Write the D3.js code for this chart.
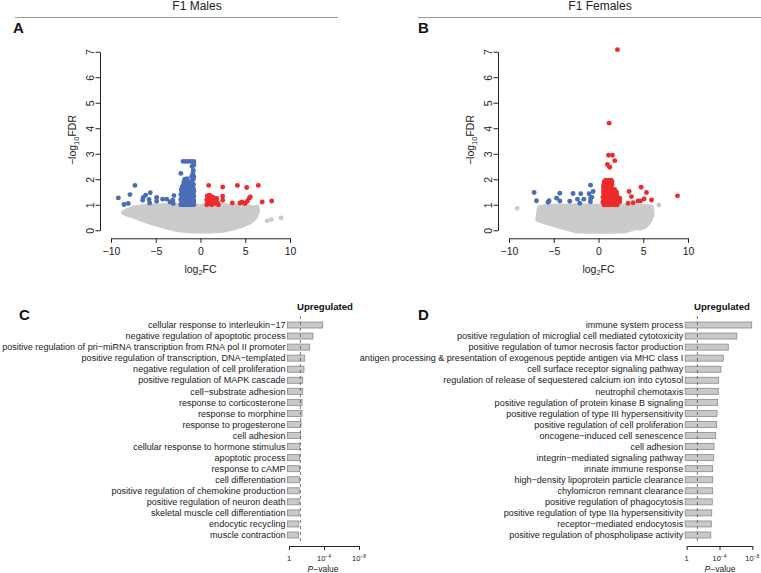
<!DOCTYPE html>
<html><head><meta charset="utf-8">
<script src="https://cdn.jsdelivr.net/npm/d3@7"></script>
<style>
html,body{margin:0;padding:0;background:#fff;}
svg{display:block;font-family:"Liberation Sans",Arial,Helvetica,sans-serif;}
</style></head>
<body><svg id="fig" width="761" height="573"></svg>
<script>
// ---------------- DATA ----------------
const volcanoXTicks = [-10, -5, 0, 5, 10];
const volcanoYTicks = [0, 1, 2, 3, 4, 5, 6, 7];

// F1 Males: [log2FC, -log10FDR]
const maleGrayCloud = [[-8.5,0.70],[-8.0,0.80],[-7.4,0.88],[-6.5,0.93],[-5.5,0.96],[-4,0.97],[-2.5,0.97],[-0.9,0.96],[-0.35,0.96],[0,0.2],[0.2,0.96],[1,0.97],[2.5,0.97],[4,0.95],[5.2,0.93],[5.9,0.88],[6.3,0.9],[6.4,0.75],[6.1,0.5],[5.5,0.32],[4.5,0.17],[3.5,0.07],[2.5,0.0],[1,-0.03],[-1,-0.03],[-2.5,0.02],[-3.5,0.1],[-4.5,0.2],[-5.5,0.3],[-6.5,0.42],[-7.5,0.55],[-8.3,0.64]];
const maleGrayPoints = [[7.45,0.37],[7.9,0.42],[9.0,0.48],[6.3,0.92],[-8.6,0.7]];
const maleBlue = [[-9.18,1.27],[-8.55,1.01],[-8.07,1.05],[-7.88,1.40],[-7.32,1.76],[-6.46,1.18],[-6.39,1.29],[-6.13,1.38],[-5.75,1.21],[-5.68,1.07],[-5.61,1.47],[-4.9,1.29],[-4.9,1.14],[-4.23,1.22],[-3.78,1.22],[-3.41,1.11],[-3.11,1.18],[-2.96,1.36],[-3.04,1.05],[-2.2,2.23],
 [-2.2,1.0],[-1.9,1.0],[-1.6,1.0],[-1.3,1.0],[-1.0,1.0],[-0.75,1.0],
 [-2.1,1.1],[-1.8,1.1],[-1.5,1.1],[-1.2,1.1],[-0.9,1.1],[-0.75,1.12],
 [-2.2,1.2],[-1.95,1.2],[-1.65,1.2],[-1.35,1.2],[-1.05,1.2],[-0.8,1.22],
 [-2.1,1.3],[-1.8,1.3],[-1.5,1.3],[-1.2,1.3],[-0.9,1.3],[-0.75,1.33],
 [-2.2,1.4],[-1.9,1.4],[-1.6,1.4],[-1.3,1.4],[-1.0,1.4],[-0.78,1.42],
 [-2.1,1.5],[-1.8,1.5],[-1.5,1.5],[-1.2,1.5],[-0.9,1.5],[-0.75,1.53],
 [-2.15,1.6],[-1.9,1.6],[-1.6,1.6],[-1.3,1.6],[-1.0,1.6],[-0.78,1.62],
 [-2.05,1.7],[-1.75,1.7],[-1.45,1.7],[-1.15,1.7],[-0.85,1.7],
 [-1.9,1.8],[-1.6,1.8],[-1.3,1.8],[-1.0,1.8],[-0.78,1.8],
 [-1.85,1.9],[-1.55,1.9],[-1.25,1.9],[-0.95,1.9],
 [-1.75,2.0],[-1.5,2.02],[-0.8,2.0],[-1.0,2.1],[-0.75,2.1],[-0.85,2.23],[-0.8,2.35],[-0.95,2.5],[-0.75,2.55],[-0.75,2.62],
 [-1.95,2.7],[-1.65,2.7],[-1.35,2.7],[-1.05,2.7],[-0.75,2.7]];
const maleRed = [[0.91,1.76],[2.48,1.70],[4.12,1.76],[5.16,1.68],[6.46,1.76],[2.48,1.34],[1.81,1.25],[2.48,1.18],[3.55,1.07],[4.41,1.07],[4.64,1.10],[4.97,1.05],[5.23,1.14],[5.45,1.26],[5.56,1.31],[6.9,1.11],[7.95,1.15],
 [0.75,1.35],[1.0,1.38],[1.25,1.32],[0.7,1.2],[0.95,1.22],[1.2,1.2],[1.45,1.28],[0.8,1.08],[1.05,1.05],[1.35,1.1],[1.6,1.05],[1.9,1.07],[1.55,1.18],[1.75,1.15],[2.0,1.0],[1.25,1.0],[0.7,1.0],[1.1,1.12]];

// F1 Females
const femaleGrayCloud = [[-6.8,0.42],[-6.6,0.88],[-6,0.93],[-5,0.95],[-3,0.96],[-1,0.96],[-0.25,0.96],[0,0.35],[0.15,0.96],[1,0.96],[3,0.96],[5,0.94],[5.9,0.92],[6.0,0.6],[5.7,0.35],[5.2,0.15],[4.6,0.08],[4.4,0.12],[3,-0.02],[1,-0.04],[-1,-0.04],[-2.5,-0.02],[-3.8,0.1],[-5,0.22],[-6,0.33]];
const femaleGrayPoints = [[-9.09,0.86],[6.74,0.99],[4.6,0.1]];
const femaleBlue = [[-7.19,1.48],[-6.93,1.16],[-5.63,1.10],[-5.52,1.16],[-4.69,1.26],[-4.32,1.45],[-4.32,1.15],[-3.21,1.14],[-2.84,1.44],[-2.35,1.22],[-2.09,1.06],[-1.98,1.43],[-1.64,1.22],[-1.05,1.43],[-0.89,1.77],[-0.89,1.25],[-0.6,1.52],[-0.9,1.12],[-0.75,1.3]];
const femaleRed = [[2.12,7.08],[1.19,4.2],[1.12,2.94],[1.56,2.94],[1.0,2.58],[1.26,2.47],[1.82,2.73],
 [2.38,1.26],[2.38,1.12],[3.42,1.52],[3.68,1.32],[3.31,1.06],[3.87,1.08],[4.42,1.15],[4.69,1.15],[4.76,1.69],[5.1,1.23],[5.36,1.48],[5.92,1.19],[8.83,1.35],
 [0.6,1.0],[0.9,1.0],[1.2,1.0],[1.5,1.0],[1.8,1.0],[2.1,1.0],
 [0.5,1.1],[0.75,1.1],[1.05,1.1],[1.35,1.1],[1.65,1.1],[1.95,1.1],[2.2,1.1],
 [0.6,1.2],[0.9,1.2],[1.2,1.2],[1.5,1.2],[1.8,1.2],[2.1,1.2],
 [0.5,1.3],[0.75,1.3],[1.05,1.3],[1.35,1.3],[1.65,1.3],[1.95,1.3],
 [0.6,1.4],[0.9,1.4],[1.2,1.4],[1.5,1.4],[1.8,1.4],[2.05,1.4],
 [0.55,1.5],[0.85,1.5],[1.15,1.5],[1.45,1.5],[1.75,1.5],[2.0,1.5],
 [0.6,1.6],[0.9,1.6],[1.2,1.6],[1.5,1.6],[1.8,1.6],
 [0.55,1.7],[0.85,1.7],[1.15,1.7],[1.45,1.7],
 [0.6,1.8],[0.9,1.8],[1.2,1.8],[1.5,1.8],
 [0.65,1.9],[0.95,1.9],[1.25,1.9],[1.5,1.92],
 [0.8,1.96],[1.1,1.96],[1.4,1.96]];

// GO enrichment bars (-log10 P)
const termsC = ["cellular response to interleukin\u221217","negative regulation of apoptotic process","positive regulation of pri\u2212miRNA transcription from RNA pol II promoter","positive regulation of transcription, DNA\u2212templated","negative regulation of cell proliferation","positive regulation of MAPK cascade","cell\u2212substrate adhesion","response to corticosterone","response to morphine","response to progesterone","cell adhesion","cellular response to hormone stimulus","apoptotic process","response to cAMP","cell differentiation","positive regulation of chemokine production","positive regulation of neuron death","skeletal muscle cell differentiation","endocytic recycling","muscle contraction"];
const valuesC = [3.85,2.74,2.37,1.79,1.71,1.57,1.57,1.49,1.49,1.37,1.32,1.25,1.22,1.21,1.2,1.18,1.17,1.16,1.12,1.1];
const termsD = ["immune system process","positive regulation of microglial cell mediated cytotoxicity","positive regulation of tumor necrosis factor production","antigen processing & presentation of exogenous peptide antigen via MHC class I","cell surface receptor signaling pathway","regulation of release of sequestered calcium ion into cytosol","neutrophil chemotaxis","positive regulation of protein kinase B signaling","positive regulation of type III hypersensitivity","positive regulation of cell proliferation","oncogene\u2212induced cell senescence","cell adhesion","integrin\u2212mediated signaling pathway","innate immune response","high\u2212density lipoprotein particle clearance","chylomicron remnant clearance","positive regulation of phagocytosis","positive regulation of type IIa hypersensitivity","receptor\u2212mediated endocytosis","positive regulation of phospholipase activity"];
const valuesD = [7.93,6.10,5.07,4.46,4.18,3.90,3.85,3.78,3.70,3.66,3.54,3.33,3.29,3.17,3.17,3.17,3.12,3.05,3.0,2.93];
const barTicks = [0, 4, 8];
const barTickLabels = [["1",""],["10","\u22124"],["10","\u22128"]];
const pThreshold = 1.3; // -log10(0.05)

// ---------------- DRAW ----------------
const svg = d3.select("#fig");
const BLUE = "#4a6cb9", RED = "#ee2a2a", GRAY = "#cbcbcb";
const FONT = '"Liberation Sans",Arial,Helvetica,sans-serif';

function header(text, cx, x1, x2) {
  svg.append("text").attr("x", cx).attr("y", 10).attr("text-anchor", "middle")
    .attr("font-size", 12).attr("fill", "#222").text(text);
  svg.append("line").attr("x1", x1).attr("x2", x2).attr("y1", 17.5).attr("y2", 17.5)
    .attr("stroke", "#9a9a9a").attr("stroke-width", 1);
}
header("F1 Males", 197, 15, 338);
header("F1 Females", 600, 418, 761);

function panelLabel(t, x, y) {
  svg.append("text").attr("x", x).attr("y", y).attr("font-size", 15).attr("font-weight", "bold")
    .attr("fill", "#111").text(t);
}
panelLabel("A", 13, 33);
panelLabel("B", 418, 33);
panelLabel("C", 19, 320);
panelLabel("D", 418, 320);

function volcano(opts) {
  const x = d3.scaleLinear().domain([-10, 10]).range(opts.xr);
  const y = d3.scaleLinear().domain([0, 7]).range([230.3, 51.7]);
  const g = svg.append("g");
  const line = d3.line().x(d => x(d[0])).y(d => y(d[1])).curve(d3.curveLinearClosed);
  g.append("path").attr("d", line(opts.cloud)).attr("fill", GRAY).attr("stroke", GRAY)
    .attr("stroke-width", 4.8).attr("stroke-linejoin", "round");
  const dots = (data, col) => g.selectAll(null).data(data).enter().append("circle")
    .attr("cx", d => x(d[0])).attr("cy", d => y(d[1])).attr("r", 2.45).attr("fill", col);
  dots(opts.gray, GRAY);
  dots(opts.blue, BLUE);
  dots(opts.red, RED);

  const xa = svg.append("g").attr("transform", "translate(0,238.3)")
    .call(d3.axisBottom(x).tickValues(volcanoXTicks).tickSizeOuter(0).tickSizeInner(4.5).tickPadding(2)
      .tickFormat(d => d < 0 ? "\u2212" + Math.abs(d) : String(d)));
  xa.select(".domain").attr("stroke", "#222");
  xa.selectAll(".tick line").attr("stroke", "#222");
  xa.selectAll("text").attr("font-size", 10.5).attr("font-family", FONT).attr("fill", "#222").attr("dy", "0.95em");
  const yx = opts.xr[0] - 11;
  const ya = svg.append("g").attr("transform", `translate(${yx},0)`)
    .call(d3.axisLeft(y).tickValues(volcanoYTicks).tickSizeOuter(0).tickSizeInner(4.5).tickFormat(d3.format("d")));
  ya.select(".domain").attr("stroke", "#222");
  ya.selectAll(".tick line").attr("stroke", "#222");
  ya.selectAll("text").attr("font-size", 10.5).attr("font-family", FONT).attr("fill", "#222")
    .attr("transform", "rotate(-90)").attr("x", 0).attr("y", -6.5).attr("dy", 0).attr("text-anchor", "middle");
  const cx = (opts.xr[0] + opts.xr[1]) / 2;
  const xt = svg.append("text").attr("x", cx).attr("y", 272.5).attr("text-anchor", "middle")
    .attr("font-size", 10.5).attr("fill", "#222");
  xt.append("tspan").text("log");
  xt.append("tspan").attr("font-size", 7.5).attr("dy", 2.5).text("2");
  xt.append("tspan").attr("dy", -2.5).text("FC");
  const yt = svg.append("text").attr("transform", `translate(${yx - 24},140) rotate(-90)`)
    .attr("text-anchor", "middle").attr("font-size", 10.5).attr("fill", "#222");
  yt.append("tspan").text("\u2212log");
  yt.append("tspan").attr("font-size", 7.5).attr("dy", 2.5).text("10");
  yt.append("tspan").attr("dy", -2.5).text("FDR");
}

volcano({ xr: [111, 290], cloud: maleGrayCloud, gray: maleGrayPoints, blue: maleBlue, red: maleRed });
volcano({ xr: [509, 688], cloud: femaleGrayCloud, gray: femaleGrayPoints, blue: femaleBlue, red: femaleRed });

function bars(opts) {
  const x = d3.scaleLinear().domain([0, 8]).range(opts.xr);
  const y = d3.scalePoint().domain(opts.terms).range([325, 535]);
  const g = svg.append("g");
  g.selectAll("rect").data(opts.values).enter().append("rect")
    .attr("x", x(0) - 1.5).attr("y", (d, i) => y(opts.terms[i]) - 3)
    .attr("width", d => x(d) - x(0) + 1.5).attr("height", 6)
    .attr("fill", "#c9c9c9").attr("stroke", "#8a8a8a").attr("stroke-width", 0.8);
  g.selectAll("text.lab").data(opts.terms).enter().append("text").attr("class", "lab")
    .attr("x", x(0) - 3.5).attr("y", d => y(d) + 3.2).attr("text-anchor", "end")
    .attr("font-size", 9.05).attr("fill", "#222").text(d => d);
  g.append("line").attr("x1", x(pThreshold)).attr("x2", x(pThreshold)).attr("y1", 316).attr("y2", 543)
    .attr("stroke", "#555").attr("stroke-width", 0.8).attr("stroke-dasharray", "3,3");
  svg.append("text").attr("x", opts.titleX).attr("y", 310).attr("text-anchor", "middle")
    .attr("font-size", 9.6).attr("font-weight", "bold").attr("fill", "#111").text("Upregulated");
  const ax = svg.append("g").attr("transform", "translate(0,546)")
    .call(d3.axisBottom(x).tickValues(barTicks).tickSizeOuter(0).tickSizeInner(4).tickFormat(""));
  ax.select(".domain").attr("stroke", "#222");
  ax.selectAll(".tick line").attr("stroke", "#222");
  barTicks.forEach((t, i) => {
    const tx = svg.append("text").attr("x", x(t)).attr("y", 561).attr("text-anchor", "middle")
      .attr("font-size", 7.5).attr("fill", "#222");
    tx.append("tspan").text(barTickLabels[i][0]);
    if (barTickLabels[i][1]) tx.append("tspan").attr("font-size", 5).attr("dy", -3.5).text(barTickLabels[i][1]);
  });
  const pt = svg.append("text").attr("x", opts.titleX - 2).attr("y", 572).attr("text-anchor", "middle")
    .attr("font-size", 8.5).attr("fill", "#222");
  pt.append("tspan").attr("font-style", "italic").text("P");
  pt.append("tspan").text("\u2212value");
}

bars({ xr: [289, 359], terms: termsC, values: valuesC, titleX: 325 });
bars({ xr: [686.7, 752.3], terms: termsD, values: valuesD, titleX: 722 });
</script>
</body></html>
